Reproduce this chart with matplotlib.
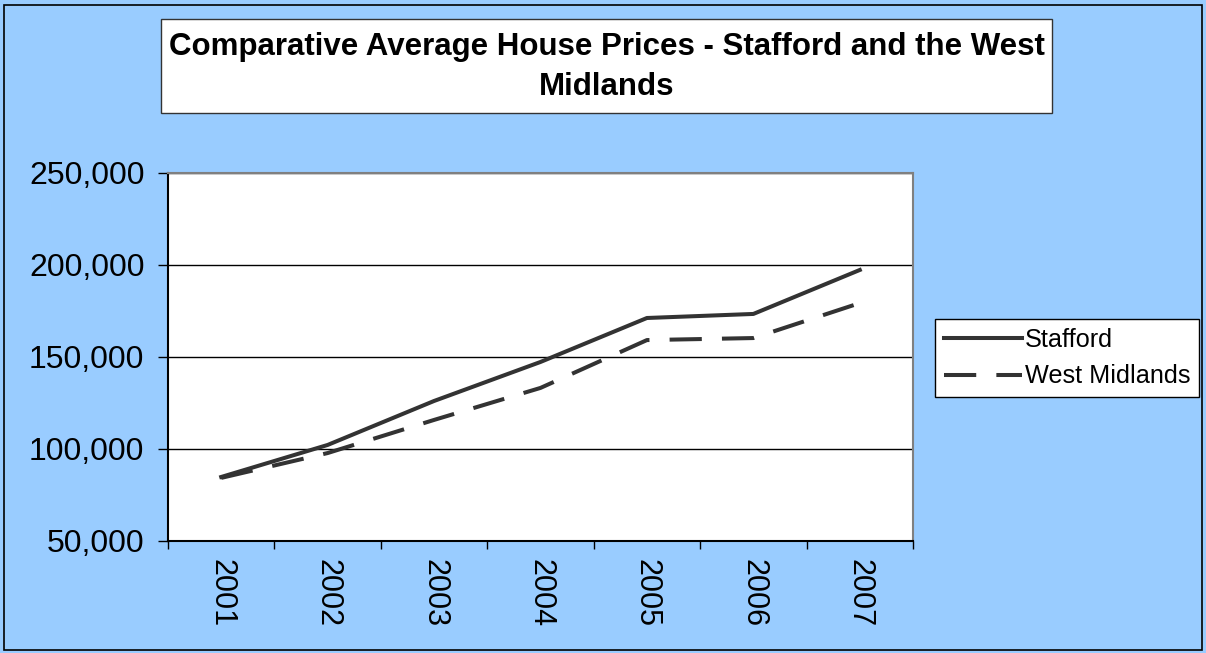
import matplotlib.pyplot as plt
import numpy as np
from matplotlib.patches import Rectangle
from matplotlib.ticker import FuncFormatter

plt.rcParams['font.family'] = ['Liberation Sans', 'DejaVu Sans']

years = ['2001', '2002', '2003', '2004', '2005', '2006', '2007']
stafford = [84800, 102200, 126100, 147300, 171200, 173400, 197300]
west_midlands = [84300, 97800, 115800, 133200, 159200, 160300, 179300]

W, H = 1206, 653
fig = plt.figure(figsize=(W / 100, H / 100), dpi=100, facecolor='#99ccff')

# outer border
fig.patches.append(Rectangle((4 / W, 3 / H), 1198 / W, 645 / H, transform=fig.transFigure,
                             fill=False, edgecolor='black', linewidth=1.2))

# title box
fig.patches.append(Rectangle((161 / W, 1 - 113 / H), 891 / W, 94 / H, transform=fig.transFigure,
                             facecolor='white', edgecolor='#333333', linewidth=1.0))
fig.text(607 / W, 1 - 67 / H, 'Comparative Average House Prices - Stafford and the West\nMidlands',
         ha='center', va='center', fontsize=22.5, fontweight='bold', linespacing=1.42)

ax = fig.add_axes([168 / W, 1 - 541 / H, 745 / W, 368 / H])
ax.set_facecolor('white')
x = np.arange(len(years))
ax.plot(x, stafford, color='#333333', lw=2.9, label='Stafford')
ax.plot(x, west_midlands, color='#333333', lw=2.9, dashes=(8, 5), label='West Midlands')

ax.set_xlim(-0.5, len(years) - 0.5)
ax.set_ylim(50000, 250000)
ax.set_yticks([50000, 100000, 150000, 200000, 250000])
ax.yaxis.set_major_formatter(FuncFormatter(lambda v, p: f'{v:,.0f}'))
ax.tick_params(axis='y', labelsize=23, length=7, width=1, color='black', pad=10)
ax.grid(axis='y', color='black', lw=1)

ax.set_xticks(np.arange(-0.5, len(years)), labels=[])
ax.set_xticks(x, labels=years, minor=True)
ax.tick_params(axis='x', which='major', length=6, width=1, color='black')
ax.tick_params(axis='x', which='minor', length=0, labelsize=22, labelrotation=-90, pad=13)
for s in ax.spines.values():
    s.set_color('#808080')
    s.set_linewidth(1.5)
ax.spines['left'].set_color('black')
ax.spines['bottom'].set_color('black')

leg = fig.legend(loc='upper left', bbox_to_anchor=(935 / W, 1 - 319 / H), fontsize=18.2,
                 frameon=True, fancybox=False, edgecolor='black', framealpha=1,
                 handlelength=3.1, handletextpad=0.1, borderpad=0.35, labelspacing=0.5,
                 borderaxespad=0)
leg.get_frame().set_linewidth(1.0)

fig.savefig('out.png', dpi=100, facecolor=fig.get_facecolor())
